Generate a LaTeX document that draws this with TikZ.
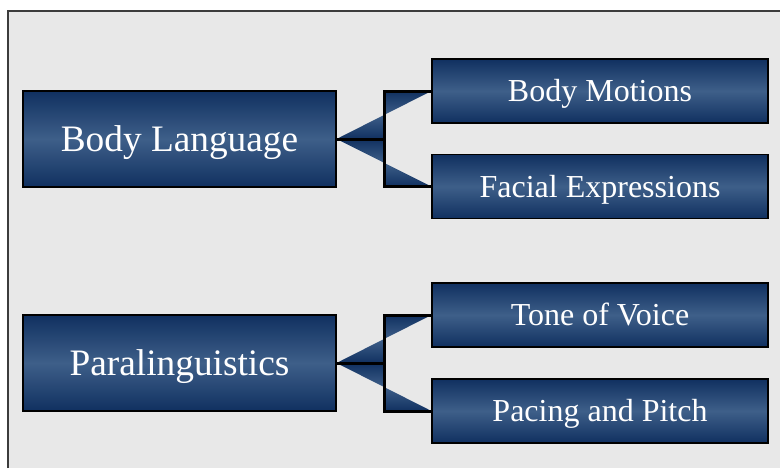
\documentclass[tikz,border=0pt]{standalone}
\usepackage{fontspec}
\setmainfont{Liberation Serif}
\usetikzlibrary{calc}

\definecolor{navydark}{RGB}{16,48,96}
\definecolor{navylight}{RGB}{62,95,137}
\definecolor{paper}{RGB}{232,232,232}
\definecolor{framegray}{RGB}{60,60,60}

\tikzset{
  bluebox/.style={draw=black, line width=0.8pt, top color=navydark, bottom color=navydark,
    middle color=navylight, text=white, inner sep=0pt, text depth=0pt},
  mainbox/.style={bluebox, minimum width=234.75pt, minimum height=72pt, text height=18.5pt,
    font=\fontsize{28}{32}\selectfont},
  subbox/.style={bluebox, minimum width=252pt, minimum height=48pt, text height=15.9pt,
    font=\fontsize{24}{28}\selectfont},
  wedge/.style={top color=navydark, bottom color=navydark, middle color=navylight},
  bracket/.style={line width=2.25pt}
}

\begin{document}
\begin{tikzpicture}[x=0.75pt, y=-0.75pt]
  \useasboundingbox (0,0) rectangle (780,468);
  % slide background
  \fill[white] (0,0) rectangle (780,468);
  \fill[paper] (8,11) rectangle (780,468);
  \draw[framegray, line width=1.2pt] (8,468) -- (8,11) -- (780,11);

  % boxes
  \node[mainbox] (bl) at (179.5,139) {Body Language};
  \node[subbox] (bm) at (600,91) {Body Motions};
  \node[subbox] (fe) at (600,186.5) {Facial Expressions};

  \node[mainbox] (pl) at (179.5,363) {Paralinguistics};
  \node[subbox] (tv) at (600,315) {Tone of Voice};
  \node[subbox] (pp) at (600,411) {Pacing and Pitch};

  % brackets
  \foreach \p/\u/\d in {bl/bm/fe, pl/tv/pp} {
    \coordinate (m) at ($(\p.east)!0.5!(\p.east -| \u.west)$);
    \coordinate (mu) at ($(\p.east)!0.5!(\u.west)$);
    \coordinate (md) at ($(\p.east)!0.5!(\d.west)$);
    \shade[wedge] (\p.east) -- (mu) -- (m) -- cycle
      (m |- \u.west) -- (\u.west) -- (mu) -- cycle;
    \shade[wedge] (\p.east) -- (md) -- (m) -- cycle
      (m |- \d.west) -- (\d.west) -- (md) -- cycle;
    \draw[bracket] (\u.west) -- (m |- \u.west) -- (m |- \d.west) -- (\d.west);
    \draw[bracket] (\p.east) -- (m);
  }
\end{tikzpicture}
\end{document}
